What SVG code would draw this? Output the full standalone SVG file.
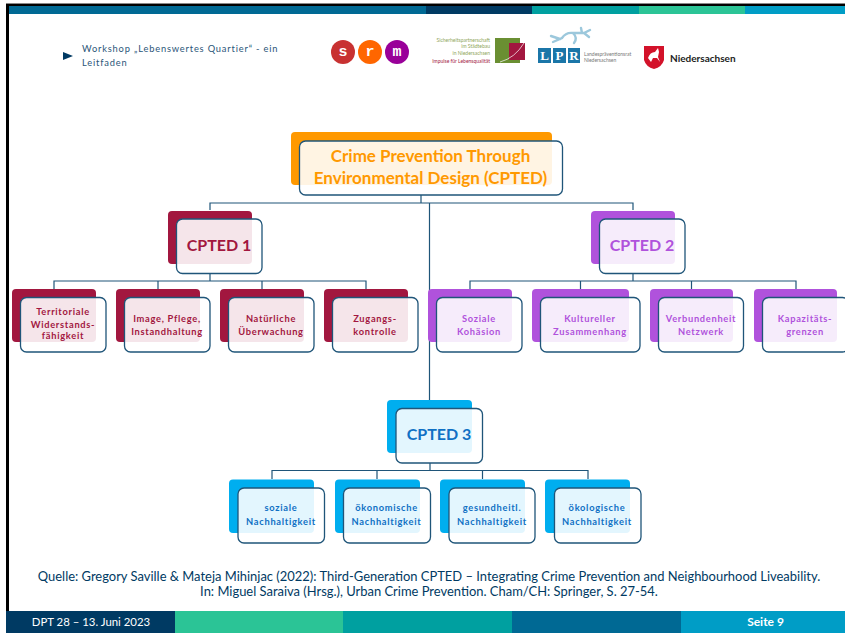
<svg xmlns="http://www.w3.org/2000/svg" width="845" height="633" viewBox="0 0 845 633">
<style>
text{font-family:"Lato","Noto Sans",sans-serif;text-anchor:middle}
.f{fill:#fff;fill-opacity:.89;stroke:#1f5579;stroke-width:1.3}
.o{fill:#f90}.r{fill:#a2173f}.p{fill:#b052dc}.c{fill:#00aeef}
.to{fill:#f90}.tr{fill:#a2173f}.tp{fill:#b052dc}.tc{fill:#0f70c4}
.h{font-weight:700;font-size:17px}
.k{font-weight:700;font-size:16px}
.m{font-weight:700;font-size:9.3px;letter-spacing:.7px}
.hd{text-anchor:start;font-size:9.3px;letter-spacing:.82px;fill:#2a5578}
.srm{font-family:"Liberation Mono",monospace;font-size:15px;font-weight:700;fill:#fff}
.lpr{font-family:"Liberation Serif",serif;font-size:13px;font-weight:700;fill:#fff}
.sm{text-anchor:end;font-size:5px;fill:#8fa65a}
.lp{text-anchor:start;font-size:5px;fill:#777}
.con path{fill:none;stroke:#1f5579;stroke-width:1.2}
</style>
<rect width="845" height="633" fill="#fff"/>
<g id="frame">
<rect x="6" y="3" width="839" height="1.2" fill="#888"/>
<rect x="6" y="4" width="839" height="2" fill="#000"/>
<rect x="6" y="4" width="3" height="607" fill="#000"/>
<rect x="9" y="6" width="417" height="8" fill="#006994"/>
<rect x="426" y="6" width="106" height="8" fill="#003a63"/>
<rect x="532" y="6" width="107" height="8" fill="#00a0a0"/>
<rect x="639" y="6" width="106" height="8" fill="#2bc496"/>
<rect x="745" y="6" width="100" height="8" fill="#009dc6"/>
</g>
<g id="header">
<polygon points="63,52 73,56 63,60" fill="#003a63"/>
<text class="hd" x="82" y="52">Workshop „Lebenswertes Quartier“  - ein</text>
<text class="hd" x="82" y="66">Leitfaden</text>
</g>
<g id="logo-srm">
<circle cx="343" cy="52" r="12" fill="#c83232"/><circle cx="370" cy="52" r="12" fill="#f60"/><circle cx="397" cy="52" r="12" fill="#909"/>
<text class="srm" x="343" y="56">s</text><text class="srm" x="370" y="56">r</text><text class="srm" x="397" y="56">m</text>
</g>
<g id="logo-sicherheit">
<text class="sm" x="490" y="42">Sicherheitspartnerschaft</text><text class="sm" x="490" y="48">im Städtebau</text><text class="sm" x="490" y="55">in Niedersachsen</text>
<text class="sm" x="490" y="63" style="fill:#a2173f">Impulse für Lebensqualität</text>
<rect x="495" y="38" width="25" height="25" fill="#6a8f32"/>
<rect x="509" y="43" width="16" height="17" fill="#a2173f"/>
<path d="M500 62Q515 58 524 43" fill="none" stroke="#fff" stroke-width=".7"/>
</g>
<g id="logo-lpr">
<rect x="538" y="48" width="13" height="15" fill="#1b76a8"/><rect x="553" y="48" width="13" height="15" fill="#1b76a8"/><rect x="568" y="48" width="12" height="15" fill="#1b76a8"/>
<text class="lpr" x="544.500" y="60">L</text><text class="lpr" x="559.500" y="60">P</text><text class="lpr" x="574" y="60">R</text>
<text class="lp" x="584" y="56">Landespräventionsrat</text><text class="lp" x="584" y="62">Niedersachsen</text>
<path d="M551 36L560 39M553 42L562 38Q566 32 573 33Q578 38 574 43M573 33L584 33L590 30M582 33L581 28M584 33L589 37" fill="none" stroke="#9cc8dc" stroke-width="2.4" stroke-linecap="round"/>
</g>
<g id="logo-nds">
<path d="M644 46h20v14q-2 7-10 9q-8-2-10-9z" fill="#d3122a"/>
<path d="M648 58q2-6 7-6l3-4 1 4-1 5 2 5-3-4-4 0-2 4z" fill="#fff"/>
<text x="670" y="62" style="text-anchor:start;font-size:10px;font-weight:700" fill="#222">Niedersachsen</text>
</g>
<g class="con" id="connectors">
<path d="M421 195V203M210 210V203H633V210M429.500 203V406"/>
<path d="M210 273V281M54 289V281H366V289M158 281V289M262 281V289"/>
<path d="M633 273V281M470 289V281H796V289M580.500 281V289M691.500 281V289"/>
<path d="M430 463V470.500M272 479V470.500H588V479M377 470.500V479M482.500 470.500V479"/>
</g>
<g id="root"><rect class="o" x="291" y="132" width="261" height="53" rx="4"/><rect class="f" x="299.500" y="141" width="263" height="54" rx="6"/><text class="h to" x="430.500" y="162">Crime Prevention Through</text><text class="h to" x="430.500" y="184">Environmental Design (CPTED)</text></g>
<g id="cpted1"><rect class="r" x="168" y="211" width="84" height="53" rx="4"/><rect class="f" x="176.500" y="219" width="85.500" height="54.500" rx="6"/><text class="k tr" x="219" y="251">CPTED 1</text></g>
<g id="cpted2"><rect class="p" x="591" y="211" width="84" height="53" rx="4"/><rect class="f" x="599.500" y="219" width="85.500" height="54.500" rx="6"/><text class="k tp" x="642" y="251">CPTED 2</text></g>
<g id="cpted3"><rect class="c" x="387" y="400" width="85" height="53" rx="4"/><rect class="f" x="396" y="408.500" width="86.500" height="54.500" rx="6"/><text class="k tc" x="439" y="440">CPTED 3</text></g>
<g id="r1"><rect class="r" x="12" y="289" width="84" height="53" rx="4"/><rect class="f" x="20.500" y="297.500" width="85.500" height="54.500" rx="6"/><text class="m tr" x="63" y="315">Territoriale</text><text class="m tr" x="63" y="328">Widerstands-</text><text class="m tr" x="63" y="339">fähigkeit</text></g>
<g id="r2"><rect class="r" x="116" y="289" width="84" height="53" rx="4"/><rect class="f" x="124.500" y="297.500" width="85.500" height="54.500" rx="6"/><text class="m tr" x="167" y="322">Image, Pflege,</text><text class="m tr" x="167" y="335">Instandhaltung</text></g>
<g id="r3"><rect class="r" x="220" y="289" width="84" height="53" rx="4"/><rect class="f" x="228.500" y="297.500" width="85.500" height="54.500" rx="6"/><text class="m tr" x="271" y="322">Natürliche</text><text class="m tr" x="271" y="335">Überwachung</text></g>
<g id="r4"><rect class="r" x="324" y="289" width="84" height="53" rx="4"/><rect class="f" x="332.500" y="297.500" width="85.500" height="54.500" rx="6"/><text class="m tr" x="375" y="322">Zugangs-</text><text class="m tr" x="375" y="335">kontrolle</text></g>
<g id="p1"><rect class="p" x="428" y="289" width="84" height="53" rx="4"/><rect class="f" x="436.500" y="297.500" width="85.500" height="54.500" rx="6"/><text class="m tp" x="479" y="322">Soziale</text><text class="m tp" x="479" y="335">Kohäsion</text></g>
<g id="p2"><rect class="p" x="532" y="289" width="97" height="53" rx="4"/><rect class="f" x="540.500" y="297.500" width="99.500" height="54.500" rx="6"/><text class="m tp" x="590" y="322">Kultureller</text><text class="m tp" x="590" y="335">Zusammenhang</text></g>
<g id="p3"><rect class="p" x="650" y="289" width="83" height="53" rx="4"/><rect class="f" x="658.500" y="297.500" width="85" height="54.500" rx="6"/><text class="m tp" x="701" y="322">Verbundenheit</text><text class="m tp" x="701" y="335">Netzwerk</text></g>
<g id="p4"><rect class="p" x="754" y="289" width="83" height="53" rx="4"/><rect class="f" x="762.500" y="297.500" width="86" height="54.500" rx="6"/><text class="m tp" x="805" y="322">Kapazitäts-</text><text class="m tp" x="805" y="335">grenzen</text></g>
<g id="c1"><rect class="c" x="229" y="479.500" width="85" height="53.500" rx="4"/><rect class="f" x="238" y="488" width="86.500" height="55" rx="6"/><text class="m tc" x="281" y="511">soziale</text><text class="m tc" x="281" y="525">Nachhaltigkeit</text></g>
<g id="c2"><rect class="c" x="335" y="479.500" width="85" height="53.500" rx="4"/><rect class="f" x="343.500" y="488" width="87" height="55" rx="6"/><text class="m tc" x="386.500" y="511">ökonomische</text><text class="m tc" x="386.500" y="525">Nachhaltigkeit</text></g>
<g id="c3"><rect class="c" x="440" y="479.500" width="85" height="53.500" rx="4"/><rect class="f" x="449" y="488" width="86" height="55" rx="6"/><text class="m tc" x="492" y="511">gesundheitl.</text><text class="m tc" x="492" y="525">Nachhaltigkeit</text></g>
<g id="c4"><rect class="c" x="545" y="479.500" width="85" height="53.500" rx="4"/><rect class="f" x="554.500" y="488" width="86.500" height="55" rx="6"/><text class="m tc" x="597" y="511">ökologische</text><text class="m tc" x="597" y="525">Nachhaltigkeit</text></g>
<g id="source" fill="#003a63" style="font-size:12.950px"><text x="429" y="581">Quelle: Gregory Saville &amp; Mateja Mihinjac (2022): Third-Generation CPTED – Integrating Crime Prevention and Neighbourhood Liveability.</text><text x="429" y="596">In: Miguel Saraiva (Hrsg.), Urban Crime Prevention. Cham/CH: Springer, S. 27-54.</text></g>
<g id="footer">
<rect x="6" y="611" width="169" height="22" fill="#003a63"/><rect x="175" y="611" width="168" height="22" fill="#2bc496"/><rect x="343" y="611" width="169" height="22" fill="#00a0a0"/><rect x="512" y="611" width="169" height="22" fill="#006994"/><rect x="681" y="611" width="164" height="22" fill="#009dc6"/>
<text x="91" y="626" fill="#fff" style="font-size:11.400px">DPT 28 – 13. Juni 2023</text>
<text x="765.500" y="626" fill="#fff" style="font-size:12px;font-weight:700">Seite 9</text>
</g>
</svg>
